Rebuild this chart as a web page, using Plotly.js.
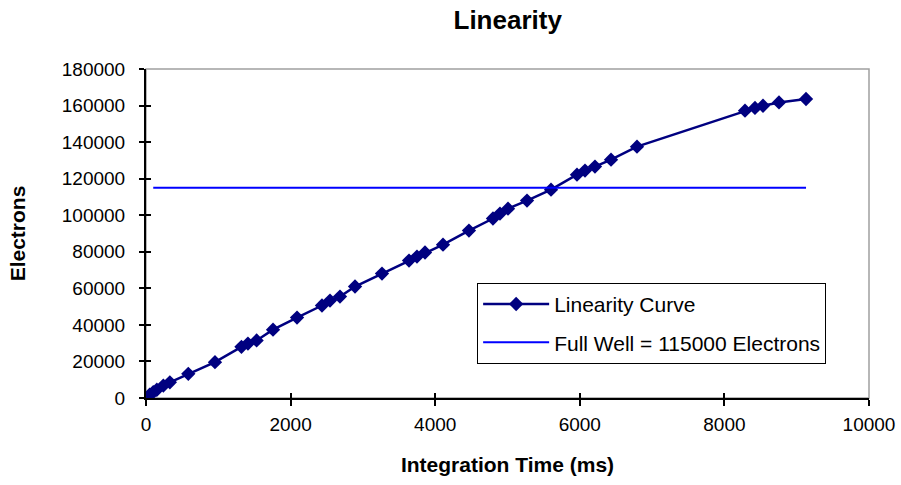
<!DOCTYPE html>
<html>
<head>
<meta charset="utf-8">
<script src="https://cdn.plot.ly/plotly-3.0.1.min.js"></script>
<style>html,body{margin:0;padding:0;background:#fff;}#chart{width:901px;height:485px;}</style>
</head>
<body>
<div id="chart"></div>
<script>
// Data
var timeMs = [0, 50, 100, 150, 240, 330, 585, 954, 1320, 1410, 1530, 1757, 2089, 2434, 2545, 2683, 2891, 3264, 3638, 3748, 3859, 4108, 4467, 4799, 4896, 5007, 5270, 5602, 5961, 6072, 6210, 6432, 6791, 8285, 8423, 8534, 8755, 9129];
var electrons = [0, 1800, 3200, 4500, 6800, 8600, 13200, 19600, 28000, 29800, 31500, 37400, 44000, 50600, 53300, 55500, 61000, 68100, 75200, 77400, 79600, 83900, 91600, 98200, 100900, 103600, 108000, 114000, 122200, 124400, 126600, 130400, 137500, 157200, 158700, 159900, 161700, 163600];
var fullWellTime = [100, 9129];
var fullWellValue = [115000, 115000];
var seriesNames = ["Linearity Curve", "Full Well = 115000 Electrons"];

var FONT = "Liberation Sans, Arial, Helvetica, sans-serif";

var traces = [
  {
    x: timeMs, y: electrons, name: seriesNames[0], type: "scatter", mode: "lines+markers",
    line: {color: "#000080", width: 2.5},
    marker: {symbol: "diamond", size: 11, color: "#000080"},
    legendgroup: "a"
  },
  {
    x: fullWellTime, y: fullWellValue, name: seriesNames[1], type: "scatter", mode: "lines",
    line: {color: "#0000FF", width: 2},
    xaxis: "x2", yaxis: "y2",
    legendgroup: "b"
  }
];

var layout = {
  width: 901, height: 485,
  margin: {l: 146, r: 32, t: 69, b: 87},
  paper_bgcolor: "#fff", plot_bgcolor: "#fff",
  font: {family: FONT, color: "#000", size: 19},
  showlegend: true,
  title: {text: "<b>Linearity</b>", font: {family: FONT, size: 26, color: "#000"}, x: 0.5635, xanchor: "center", y: 0.958, yanchor: "middle"},
  xaxis: {
    range: [0, 10000], dtick: 2000, tick0: 0, tickformat: "d", showgrid: false, zeroline: false,
    showline: true, linecolor: "#000", linewidth: 2,
    ticks: "outside", ticklen: 6, tickwidth: 2, tickcolor: "#000",
    tickfont: {size: 19}, ticklabelstandoff: 2,
    title: {text: "<b>Integration Time (ms)</b>", font: {size: 21}, standoff: 24}
  },
  yaxis: {
    range: [0, 180000], dtick: 20000, tick0: 0, tickformat: "d", showgrid: false, zeroline: false,
    showline: true, linecolor: "#000", linewidth: 2,
    ticks: "outside", ticklen: 5, tickwidth: 2, tickcolor: "#000",
    tickfont: {size: 19}, ticklabelstandoff: 10,
    title: {text: "<b>Electrons</b>", font: {size: 21}, standoff: 30}
  },
  xaxis2: {
    overlaying: "x", range: [0, 10000], dtick: 2000, tick0: 0, showgrid: false, zeroline: false,
    showline: false, showticklabels: false, ticks: "inside", ticklen: 5, tickwidth: 2, tickcolor: "#000"
  },
  yaxis2: {
    overlaying: "y", range: [0, 180000], dtick: 20000, tick0: 0, showgrid: false, zeroline: false,
    showline: false, showticklabels: false, ticks: "inside", ticklen: 5, tickwidth: 2, tickcolor: "#000"
  },
  shapes: [
    {type: "rect", xref: "paper", yref: "paper", x0: 0, x1: 1, y0: 0, y1: 1,
     line: {color: "#a0a0a0", width: 1.5}, layer: "below"}
  ],
  legend: {
    x: 0.458, y: 0.35, xanchor: "left", yanchor: "top",
    bgcolor: "#fff", bordercolor: "#000", borderwidth: 1,
    font: {size: 21, family: FONT},
    traceorder: "grouped", tracegroupgap: 8, itemwidth: 66
  }
};

Plotly.newPlot("chart", traces, layout, {displayModeBar: false, staticPlot: true});
</script>
</body>
</html>
